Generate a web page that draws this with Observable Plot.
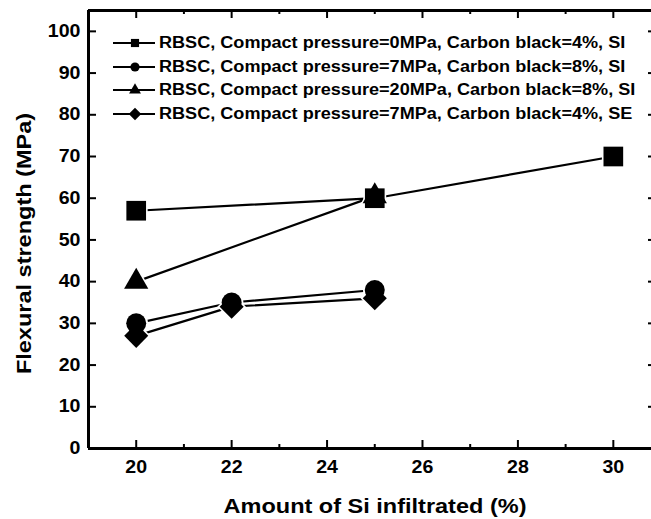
<!DOCTYPE html>
<html><head><meta charset="utf-8">
<script src="https://cdn.jsdelivr.net/npm/d3@7"></script>
<script src="https://cdn.jsdelivr.net/npm/@observablehq/plot@0.6"></script>
<style>
body{margin:0;background:#fff;}
#wrap{position:relative;width:651px;height:519px;font-family:"Liberation Sans",Arial,sans-serif;font-weight:bold;color:#000;}
#legend{position:absolute;left:112px;top:31px;}
.row{display:flex;align-items:center;height:23.7px;font-size:16px;white-space:nowrap;}
.row svg{margin-right:3px;}
.row span{display:inline-block;transform:scaleX(1.13);transform-origin:left center;}
</style></head><body><div id="wrap"></div>
<script>
const seriesNames = [
  "RBSC, Compact pressure=0MPa, Carbon black=4%, SI",
  "RBSC, Compact pressure=7MPa, Carbon black=8%, SI",
  "RBSC, Compact pressure=20MPa, Carbon black=8%, SI",
  "RBSC, Compact pressure=7MPa, Carbon black=4%, SE"
];
const seriesSymbols = ["square", "circle", "triangle", "diamond"];
const squareX = [20, 25, 30];
const squareY = [57, 60, 70];
const circleX = [20, 22, 25];
const circleY = [30, 35, 38];
const triangleX = [20, 25];
const triangleY = [40, 60.5];
const diamondX = [20, 22, 25];
const diamondY = [27, 34, 36];
const xTicks = [20, 22, 24, 26, 28, 30];
const xMinorTicks = [21, 23, 25, 27, 29];
const yTicks = [0, 10, 20, 30, 40, 50, 60, 70, 80, 90, 100];
const xTitle = "Amount of Si infiltrated (%)";
const yTitle = "Flexural strength (MPa)";

const xsAll = [squareX, circleX, triangleX, diamondX];
const ysAll = [squareY, circleY, triangleY, diamondY];
const data = [];
xsAll.forEach((xs, i) => xs.forEach((x, j) => data.push({series: seriesNames[i], sym: seriesSymbols[i], x, y: ysAll[i][j]})));

const diamond = {draw(ctx, size) { const r = Math.sqrt(size / 2); ctx.moveTo(0, -r); ctx.lineTo(r, 0); ctx.lineTo(0, r); ctx.lineTo(-r, 0); ctx.closePath(); }};
const symMap = {square: d3.symbolSquare, circle: d3.symbolCircle, triangle: d3.symbolTriangle, diamond};
const rMap = {square: 11.1, circle: 10, triangle: 9, diamond: 9.6};

const W = 651, H = 519, mL = 88, mR = 0, mT = 10, mB = 71;
const pw = W - mL - mR, ph = H - mT - mB;

const marks = [];
seriesNames.forEach(s => marks.push(Plot.line(data.filter(d => d.series === s), {x: "x", y: "y", stroke: "#000", strokeWidth: 2.2})));
seriesSymbols.forEach(sym => marks.push(Plot.dot(data.filter(d => d.sym === sym), {x: "x", y: "y", symbol: symMap[sym], r: rMap[sym] + 1.8, fill: "#fff", stroke: "none"})));
seriesSymbols.forEach(sym => marks.push(Plot.dot(data.filter(d => d.sym === sym), {x: "x", y: "y", symbol: symMap[sym], r: rMap[sym], fill: "#000", stroke: "none"})));

const xDom = [19, 30.8], yDom = [0, 105];
const chart = Plot.plot({
  width: W, height: H, marginLeft: mL, marginRight: mR, marginTop: mT, marginBottom: mB,
  x: {domain: xDom}, y: {domain: yDom},
  style: {fontFamily: '"Liberation Sans", Arial, sans-serif', fontWeight: "bold", fontSize: "17.5px", color: "#000", background: "#fff"},
  marks: [
    Plot.axisX({ticks: xTicks, tickSize: 0, tickPadding: 12, label: null}),
    Plot.axisY({ticks: yTicks, tickSize: 0, tickPadding: 8, label: null}),
    Plot.tickX(xTicks, {x: d => d, insetTop: ph - 8, strokeWidth: 2}),
    Plot.tickX(xMinorTicks, {x: d => d, insetTop: ph - 4, strokeWidth: 2}),
    Plot.tickX(xTicks, {x: d => d, insetBottom: ph - 8, strokeWidth: 2}),
    Plot.tickX(xMinorTicks, {x: d => d, insetBottom: ph - 4, strokeWidth: 2}),
    Plot.tickY(yTicks, {y: d => d, insetRight: pw - 8, strokeWidth: 2}),
    Plot.tickY(yTicks, {y: d => d, insetLeft: pw - 3, strokeWidth: 2}),
    Plot.ruleX([xDom[0]], {strokeWidth: 3}),
    Plot.ruleY([yDom[0]], {strokeWidth: 3}),
    Plot.ruleY([yDom[1]], {strokeWidth: 3}),
    ...marks,
    Plot.text([xTitle], {frameAnchor: "bottom", textAnchor: "middle", lineAnchor: "middle", dy: 58, dx: 5, fontSize: 21, fontWeight: "bold"}),
    Plot.text([yTitle], {frameAnchor: "left", rotate: -90, textAnchor: "middle", lineAnchor: "middle", dx: -64, dy: 14, fontSize: 21, fontWeight: "bold"})
  ]
});
// widen glyphs horizontally to match the reference's wide bold face
chart.querySelectorAll("text").forEach(t => {
  const tr = t.getAttribute("transform");
  if (tr) t.setAttribute("transform", `${tr} scale(1.12,1)`);
});
const wrap = document.getElementById("wrap");
wrap.appendChild(chart);

const legend = document.createElement("div");
legend.id = "legend";
const legR = {square: 4.6, circle: 4.6, triangle: 4.4, diamond: 5};
seriesNames.forEach((name, i) => {
  const row = document.createElement("div");
  row.className = "row";
  const svg = d3.create("svg").attr("width", 44).attr("height", 20);
  svg.append("line").attr("x1", 1).attr("x2", 43).attr("y1", 10).attr("y2", 10).attr("stroke", "#000").attr("stroke-width", 2);
  const sym = seriesSymbols[i];
  svg.append("path").attr("transform", "translate(23,10)").attr("d", d3.symbol(symMap[sym], Math.PI * legR[sym] * legR[sym])()).attr("fill", "#000");
  row.appendChild(svg.node());
  const t = document.createElement("span");
  t.textContent = name;
  row.appendChild(t);
  legend.appendChild(row);
});
wrap.appendChild(legend);
</script></body></html>
